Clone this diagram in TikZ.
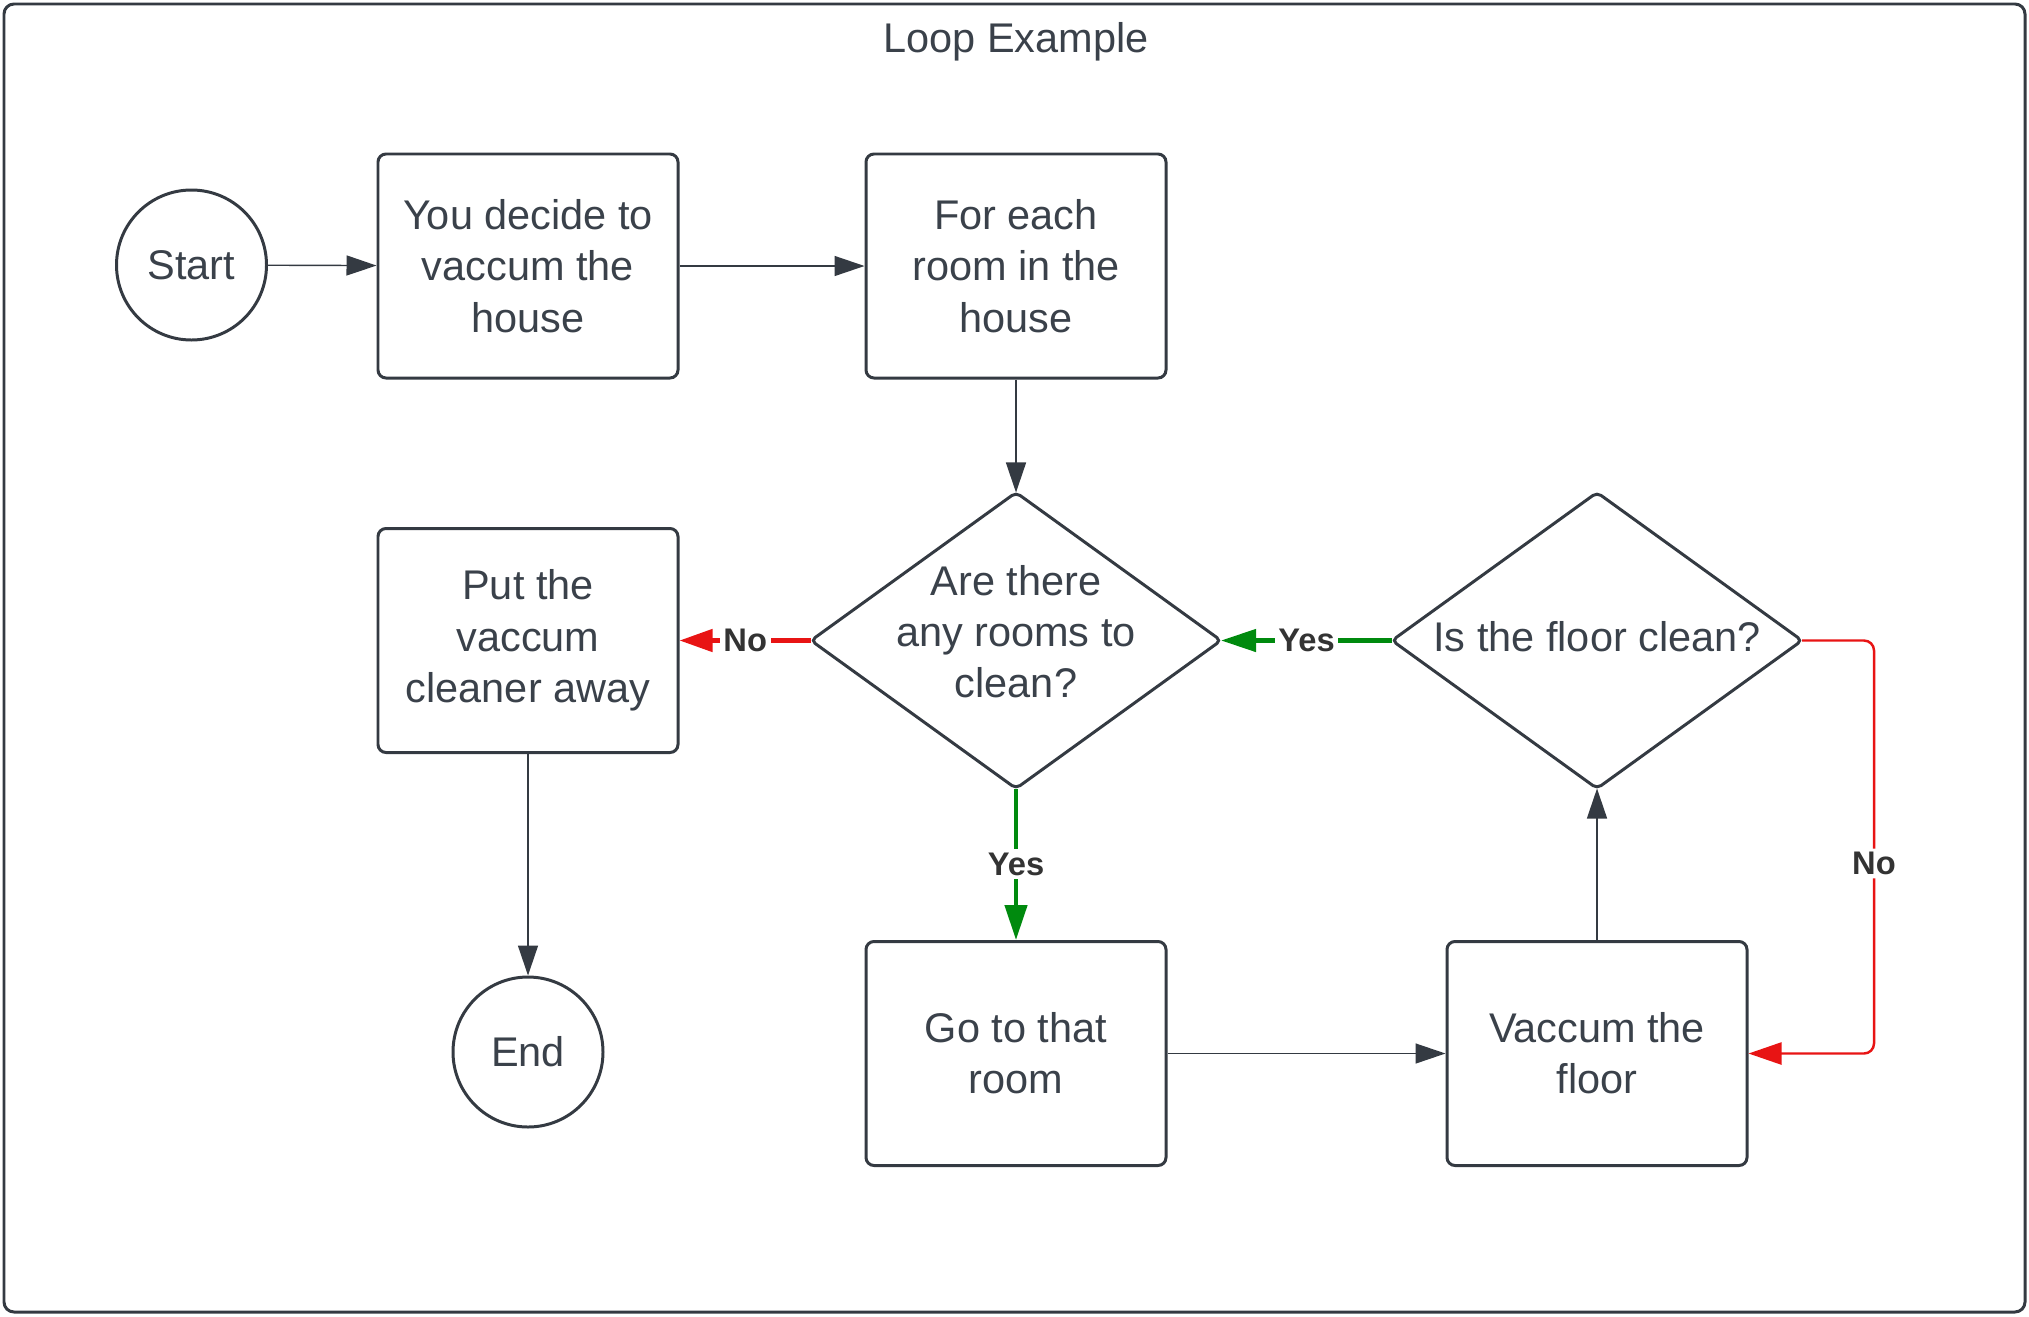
\documentclass[tikz,border=0pt]{standalone}
\usepackage{fontspec}
\setmainfont{Liberation Sans}
\usepackage{xcolor}
\usepackage{tikz}
\usetikzlibrary{shapes.geometric,arrows.meta,positioning,calc}
\definecolor{ink}{HTML}{3A414A}
\definecolor{edge}{HTML}{343A42}
\definecolor{nored}{HTML}{E81414}
\definecolor{yesgreen}{HTML}{008A0E}
\newcommand{\boxfont}{\fontsize{11.8}{14.6}\selectfont}
\tikzset{
	proc/.style={draw=edge,line width=0.85pt,rounded corners=0.08cm,minimum width=3cm,minimum height=2.24cm,align=center,text=ink,font=\boxfont},
	term/.style={draw=edge,line width=0.85pt,circle,minimum size=1.5cm,inner sep=0pt,text=ink,font=\boxfont},
	decision/.style={draw=edge,line width=0.85pt,diamond,minimum width=4.1cm,minimum height=2.96cm,inner sep=0pt,outer sep=0pt,rounded corners=0.05cm},
	txt/.style={align=center,text=ink,font=\boxfont},
	flow/.style={draw=edge,line width=0.4pt,-{Triangle[length=0.3cm,width=0.2cm]}},
	yesflow/.style={draw=yesgreen,line width=1.3pt,-{Triangle[length=0.35cm,width=0.22cm]}},
	noflow/.style={draw=nored,line width=1.3pt,-{Triangle[length=0.33cm,width=0.22cm]}},
	lbl/.style={fill=white,text=black!80,inner sep=1pt,font=\bfseries\fontsize{9.3}{11}\selectfont}
}
\begin{document}
\begin{tikzpicture}
	\useasboundingbox (0,0) rectangle (20.29,-13.16);
	\draw[draw=edge,line width=0.85pt,rounded corners=0.1cm] (0.04,-0.04) rectangle (20.25,-13.12);
	\node[txt,anchor=base] (title) at (10.16,-0.52) {Loop Example};

	\node[term] (start) at (1.915,-2.65) {Start};
	\node[proc] (decide) at (5.28,-2.66) {You decide to\\vaccum the\\house};
	\node[proc] (each) at (10.16,-2.66) {For each\\room in the\\house};
	\node[decision] (rooms) at (10.16,-6.405) {};
	\node[txt,yshift=0.09cm] (roomstxt) at (rooms) {Are there\\any rooms to\\clean?};
	\node[decision] (floorq) at (15.97,-6.405) {};
	\node[txt,yshift=0.04cm] (floortxt) at (floorq) {Is the floor clean?};
	\node[proc] (putaway) at (5.28,-6.405) {Put the\\vaccum\\cleaner away};
	\node[term] (endc) at (5.28,-10.52) {End};
	\node[proc] (goroom) at (10.16,-10.535) {Go to that\\room};
	\node[proc] (vacuum) at (15.97,-10.535) {Vaccum the\\floor};

	\draw[flow] (start) -- (decide);
	\draw[flow] (decide) -- (each);
	\draw[flow] (each) -- (rooms);
	\draw[flow] (putaway) -- (endc);
	\draw[flow] (goroom) -- (vacuum);
	\draw[flow] (vacuum) -- (floorq);
	\draw[noflow] (rooms.west) -- node[lbl] (nolbl) {No} (putaway.east);
	\draw[yesflow] (rooms.south) -- node[lbl] (yeslbl) {Yes} (goroom.north);
	\draw[yesflow] (floorq.west) -- node[lbl] (yeslbl2) {Yes} (rooms.east);
	\draw[noflow,line width=0.7pt,rounded corners=0.1cm] (floorq.east) -- ++(0.72,0) |- node[lbl,pos=0.27] (nolbl2) {No} (vacuum.east);
\end{tikzpicture}
\end{document}
